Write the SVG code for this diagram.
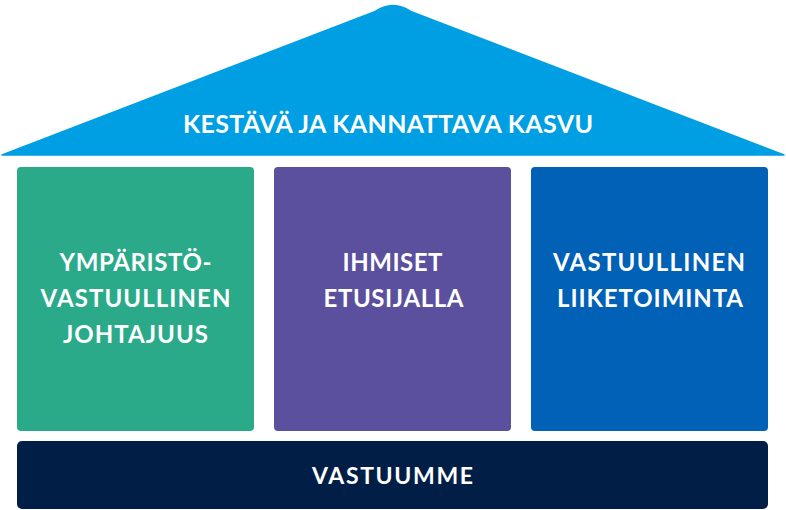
<svg xmlns="http://www.w3.org/2000/svg" width="786" height="510" viewBox="0 0 786 510">
  <style>
    .lbl { font-family: Lato, "Liberation Sans", sans-serif; font-weight: 700; fill: #ffffff; text-anchor: middle; }
    .pillar { font-size: 24px; }
  </style>
  <rect width="786" height="510" fill="#ffffff"/>
  <g id="roof">
    <path d="M2,155 L374,12 Q393,-1 412,12 L784,155 Z" fill="#009fe3" stroke="#009fe3" stroke-width="1.5" stroke-linejoin="round"/>
    <text class="lbl" x="388" y="133" font-size="25" textLength="410" lengthAdjust="spacing">KESTÄVÄ JA KANNATTAVA KASVU</text>
  </g>
  <g id="pillar-environment">
    <rect x="17" y="167" width="237" height="264" rx="4" fill="#2baa8a"/>
    <text class="lbl pillar" x="135.5" y="271" textLength="152" lengthAdjust="spacing">YMPÄRISTÖ-</text>
    <text class="lbl pillar" x="135.5" y="307" textLength="190" lengthAdjust="spacing">VASTUULLINEN</text>
    <text class="lbl pillar" x="135.5" y="343" textLength="145" lengthAdjust="spacing">JOHTAJUUS</text>
  </g>
  <g id="pillar-people">
    <rect x="274" y="167" width="237" height="264" rx="4" fill="#5a509e"/>
    <text class="lbl pillar" x="392.5" y="271" textLength="100" lengthAdjust="spacing">IHMISET</text>
    <text class="lbl pillar" x="393.5" y="307" textLength="140" lengthAdjust="spacing">ETUSIJALLA</text>
  </g>
  <g id="pillar-business">
    <rect x="531" y="167" width="237" height="264" rx="4" fill="#0061b7"/>
    <text class="lbl pillar" x="649" y="271" textLength="192" lengthAdjust="spacing">VASTUULLINEN</text>
    <text class="lbl pillar" x="650" y="307" textLength="186" lengthAdjust="spacing">LIIKETOIMINTA</text>
  </g>
  <g id="foundation">
    <rect x="17" y="441" width="751" height="68" rx="5" fill="#011e46"/>
    <text class="lbl" x="392.5" y="484" font-size="23" textLength="161" lengthAdjust="spacing">VASTUUMME</text>
  </g>
  <g id="connectors"/>
</svg>
